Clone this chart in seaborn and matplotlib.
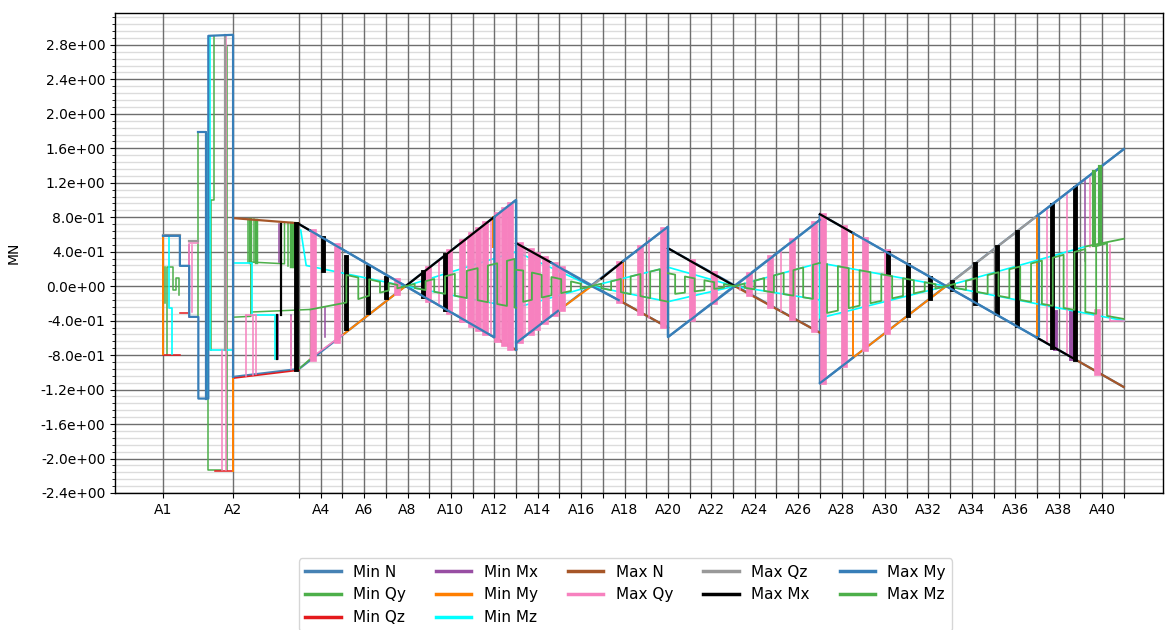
import numpy as np
import pandas as pd
import matplotlib
matplotlib.use("Agg")
import matplotlib.pyplot as plt
import seaborn as sns
from matplotlib.ticker import MultipleLocator, FormatStrFormatter, FixedLocator
from matplotlib.lines import Line2D

nan = np.nan

# ---- stations (x axis) ----
station_x = [0.0, 3.23, 6.27, 7.27, 8.27, 9.27, 10.27, 11.27, 12.27, 13.27, 14.27, 15.27,
             16.27, 17.27, 18.27, 19.27, 20.27, 21.27, 22.27, 23.27, 24.27, 25.27, 26.27,
             27.27, 28.27, 29.27, 30.27, 31.27, 32.27, 33.27, 34.27, 35.27, 36.27, 37.27,
             38.27, 39.27, 40.27, 41.27, 42.27, 43.27, 44.27]
station_labels = ["A1", "A2", "", "A4", "", "A6", "", "A8", "", "A10", "", "A12", "", "A14", "",
                  "A16", "", "A18", "", "A20", "", "A22", "", "A24", "", "A26", "", "A28", "",
                  "A30", "", "A32", "", "A34", "", "A36", "", "A38", "", "A40", ""]

series_names = ["Min N", "Min Qy", "Min Qz", "Min Mx", "Min My", "Min Mz",
                "Max N", "Max Qy", "Max Qz", "Max Mx", "Max My", "Max Mz"]
series_colors = ["#4682b4", "#4daf4a", "#e41a1c", "#984ea3", "#ff7f00", "#00ffff",
                 "#a65628", "#f781bf", "#999999", "#000000", "#377eb8", "#4daf4a"]

# ---- Min N ----
min_n_x = [3.23, 6.27, 16.27, 16.27, 16.27, 23.27, 23.27, 23.27, 30.27, 30.27, 30.27, 44.27, nan,
           6.27, 16.27, nan, 16.27, 23.27, nan, 23.27, 30.27, nan, 30.27, 44.27]
min_n_y = [-1.053, -0.96, 1.0, -0.74, -0.66, 0.69, -0.59, -0.59, 0.77, 0.835, -1.126, 1.59, nan,
           0.72, -0.74, nan, 0.5, -0.48, nan, 0.44, -0.54, nan, 0.835, -1.17]

# ---- Min Qy ----
min_qy_x = [0.1, 0.1, nan, 0.2, 0.2, 0.45, 0.45, 0.6, 0.6, 0.75, 0.75, nan, 1.63, 1.63, 2.0, nan,
            2.09, 2.09, 2.7, nan, 2.37, 2.37, 2.2, 2.2, nan, 2.93, 2.93, nan,
            3.23, 4.05, 4.05, 5.6, 5.6, nan, 4.05, 6.8, 6.8, 6.27, nan,
            3.92, 3.92, nan, 4.2, 4.2, nan, 5.75, 5.75]
min_qy_y = [0.22, -0.2, nan, -0.79, 0.22, 0.22, -0.05, -0.05, 0.1, 0.1, -0.1, nan, -0.356, 1.79, 1.79, nan,
            -0.74, -2.13, -2.13, nan, 2.9, 1.0, 1.0, -0.74, nan, 2.78, -2.13, nan,
            -0.36, -0.35, 0.28, 0.26, 0.73, nan, -0.30, -0.27, -0.84, -0.96, nan,
            0.78, 0.28, nan, 0.78, 0.28, nan, 0.73, 0.23]
min_qy_bar_x = [4.0, 4.3, 5.9, 6.05]
min_qy_bar_lo = [0.28, 0.28, 0.23, 0.23]
min_qy_bar_hi = [0.78, 0.77, 0.73, 0.72]

# ---- Min Qz ----
min_qz_x = [0.0, 0.78, nan, 0.78, 1.21, nan, 2.4, 3.23, nan, 3.23, 6.27]
min_qz_y = [-0.795, -0.795, nan, -0.31, -0.31, nan, -2.14, -2.14, nan, -1.068, -0.975]

# ---- Min Mx ----
min_mx_x = [5.3, 5.3, nan, 5.9, 5.9, nan, 5.35, 5.35, nan, 7.45, 7.45, nan, 1.2, 1.2, nan, 42.5, 42.5]
min_mx_y = [-0.34, -0.85, nan, -0.34, -0.92, nan, 0.72, 0.28, nan, -0.24, -0.59, nan, 0.48, -0.36, nan, 0.29, 1.24]
min_mx_bar_x = [41.1, 41.85]
min_mx_bar_lo = [-0.72, -0.83]
min_mx_bar_hi = [-0.30, -0.30]

# ---- Min My ----
min_my_x = [0.0, 0.0, nan, 3.23, 3.23, nan, 8.29, 11.18, nan, 15.2, 15.2, nan, 18.2, 19.75, nan,
            21.2, 21.2, nan, 31.8, 36.09, nan, 31.8, 31.8, nan, 40.27, 40.27]
min_my_y = [0.584, -0.79, nan, -2.14, -1.06, nan, -0.564, 0.0, nan, 0.80, 0.45, nan, -0.287, 0.0, nan,
            0.29, -0.19, nan, -0.829, 0.0, nan, 0.616, -0.829, nan, 0.814, -0.57]

# ---- Min Mz ----
min_mz_x = [0.3, 0.3, 0.4, 0.4, nan, 2.05, 2.05, nan, 2.17, 2.17, 3.23, nan,
            3.23, 4.1, 4.1, 5.15, 5.15, nan,
            6.35, 6.6, 11.18, 16.27, 19.75, 23.27, 26.35, 30.27, 36.09, 42.5, nan,
            11.18, 16.27, 19.75, 23.27, 26.35, 30.27, 30.27, 36.09, 44.27, nan,
            16.27, 16.27, nan, 23.27, 23.27, nan, 30.27, 30.27]
min_mz_y = [0.584, -0.25, -0.25, -0.79, nan, 1.77, -1.28, nan, 2.9, -0.74, -0.74, nan,
            0.27, 0.27, -0.34, -0.34, -0.85, nan,
            0.65, 0.24, 0.0, 0.4, 0.0, 0.22, 0.0, 0.27, 0.0, 0.46, nan,
            0.0, -0.25, 0.0, -0.18, 0.0, -0.16, -0.37, 0.0, -0.40, nan,
            0.4, -0.25, nan, 0.22, -0.18, nan, 0.27, -0.16]

# ---- Max N ----
max_n_x = [3.23, 6.27, nan, 15.27, 16.27, nan, 21.0, 23.27, nan, 26.35, 30.27, nan, 42.0, 44.27]
max_n_y = [0.79, 0.73, nan, -0.594, -0.74, nan, -0.162, -0.48, nan, 0.0, -0.54, nan, -0.845, -1.17]

# ---- Max Qy ----
max_qy_x = [1.2, 1.2, nan, 1.35, 1.35, nan, 1.21, 1.63, nan, 2.9, 2.9, nan, 2.72, 2.72, nan,
            3.82, 3.82, nan, 3.82, 4.29, nan, 4.15, 4.15, nan, 4.29, 4.29, nan, 5.9, 5.9, nan,
            6.77, 8.29, nan, 40.74, 40.74, nan, 41.66, 41.66, nan, 42.7, 42.7, nan, 43.64, 43.64, 44.27, nan,
            12.7, 12.7, nan, 14.05, 14.05, nan, 15.1, 15.1, nan, 16.7, 16.7, nan, 17.8, 17.8, nan,
            22.4, 22.4, nan, 26.6, 26.6, nan, 28.5, 28.5]
max_qy_y = [0.48, -0.36, nan, 0.48, -0.3, nan, 0.5, 0.5, nan, 2.91, -2.13, nan, -0.74, -2.13, nan,
            -0.34, -1.04, nan, -0.34, -0.34, nan, -0.34, -1.03, nan, -0.34, -1.02, nan, -0.36, -0.96, nan,
            -0.84, -0.564, nan, -0.664, 0.905, nan, -0.796, 1.084, nan, 0.45, 1.26, nan, 0.48, -0.40, -0.40, nan,
            -0.219, 0.300, nan, -0.416, 0.565, nan, -0.569, 0.770, nan, 0.440, -0.578, nan, 0.286, -0.366, nan,
            -0.370, 0.558, nan, -0.040, 0.050, nan, -0.290, 0.420]
max_qy_bar_x = [6.9, 8.0, 10.8, 12.2, 13.2, 13.8, 14.2, 14.5, 14.85, 15.4, 15.7, 16.0,
                16.45, 16.95, 17.25, 17.6, 18.05, 18.4, 21.0, 21.98, 23.05,
                24.4, 25.4, 27.0, 27.98, 29.0, 30.0, 30.4, 31.4, 32.35, 33.37, 43.05]
max_qy_bar_lo = [-0.837, -0.621, -0.072, -0.146, -0.292, -0.379, -0.438, -0.482, -0.533, -0.613, -0.657, -0.70,
                 -0.625, -0.529, -0.471, -0.403, -0.316, -0.249, -0.162, -0.30, -0.449,
                 -0.371, -0.177, -0.082, -0.219, -0.362, -0.502, -1.10, -0.907, -0.722, -0.525, -0.995]
max_qy_bar_hi = [0.628, 0.467, 0.059, 0.202, 0.398, 0.516, 0.594, 0.653, 0.722, 0.829, 0.888, 0.947,
                 0.475, 0.405, 0.363, 0.314, 0.251, 0.202, 0.253, 0.442, 0.649,
                 0.282, 0.142, 0.134, 0.324, 0.522, 0.716, 0.816, 0.673, 0.537, 0.391, -0.30]

# ---- Max Qz ----
max_qz_x = [0.0, 0.78, nan, 1.21, 1.63, nan, 2.88, 2.88, nan, 36.09, 40.27, nan, 19.75, 20.2]
max_qz_y = [0.595, 0.595, nan, 0.52, 0.52, nan, 2.91, -0.74, nan, 0.0, 0.814, nan, 0.0, 0.087]

# ---- Max Mx ----
max_mx_x = [6.27, 6.77, nan, 11.18, 15.27, nan, 16.27, 17.9, nan, 20.2, 21.2, nan, 23.27, 26.35, nan,
            30.27, 31.8, nan, 40.27, 42.0, nan, 5.44, 5.44, nan, 5.25, 5.25]
max_mx_y = [0.72, 0.647, nan, 0.0, 0.804, nan, 0.5, 0.272, nan, 0.087, 0.29, nan, 0.44, 0.0, nan,
            0.835, 0.616, nan, -0.597, -0.845, nan, 0.72, -0.34, nan, -0.34, -0.85]
max_mx_bar_x = [6.15, 7.37, 8.43, 9.45, 10.3, 11.98, 13.0, 33.4, 34.33, 35.35, 36.36, 37.42, 38.43, 39.35, 40.97, 42.03]
max_mx_bar_lo = [-0.96, 0.19, -0.49, -0.30, -0.13, -0.11, -0.26, 0.15, -0.34, -0.14, -0.03, -0.19, -0.31, -0.45, -0.70, -0.85]
max_mx_bar_hi = [0.72, 0.56, 0.34, 0.22, 0.09, 0.16, 0.36, 0.39, 0.24, 0.09, 0.05, 0.26, 0.45, 0.63, 0.94, 1.14]

# ---- Max My ----
max_my_x = [0.0, 0.78, 0.78, 1.21, 1.21, 1.63, 1.63, 2.09, 2.09, 3.23, 3.23, nan, 2.0, 2.0, 1.63, nan,
            6.77, 11.18, 15.27, 15.27, 16.27, 16.27, nan, 16.27, 18.2, nan, 17.9, 19.75, 21.0, nan,
            21.2, 23.27, 23.27, 26.35, 30.27, nan, 30.27, 31.8, nan, 31.8, 36.09, 40.27, nan,
            40.27, 44.27, nan, 40.35, 40.35]
max_my_y = [0.584, 0.584, 0.236, 0.236, -0.356, -0.356, -1.304, -1.304, 2.905, 2.917, -1.053, nan, -1.304, 1.79, 1.79, nan,
            0.647, 0.0, -0.594, 0.804, 1.0, -0.74, nan, -0.66, -0.287, nan, 0.272, 0.0, -0.162, nan,
            0.29, 0.69, -0.59, 0.0, 0.77, nan, -1.126, -0.829, nan, 0.616, 0.0, -0.597, nan,
            0.814, 1.59, nan, 0.80, -0.58]

# ---- Max Mz (square wave between the small envelopes) ----
wave_c_x = [6.8, 8.45, 8.45, 9.0, 9.0, 9.5, 9.5, 10.0, 10.0, 10.4, 10.4, 10.8, 10.8, 11.18,
            11.6, 11.6, 12.1, 12.1, 12.5, 12.5, 13.0, 13.0, 13.45, 13.45, 14.0, 14.0, 14.5, 14.5,
            14.97, 14.97, 15.4, 15.4, 15.85, 15.85, 16.2, 16.2, 16.27]
wave_c_y = [-0.27, -0.19, 0.13, 0.10, -0.15, -0.11, 0.08, 0.05, -0.075, -0.05, 0.035, 0.015, -0.025, 0.0,
            0.026, -0.021, -0.045, 0.058, 0.083, -0.065, -0.089, 0.115, 0.143, -0.111, -0.138, 0.178, 0.209, -0.163,
            -0.186, 0.239, 0.266, -0.207, -0.229, 0.294, 0.316, -0.246, -0.25]
wave_d_x = [16.27, 16.6, 16.6, 17.0, 17.0, 17.45, 17.45, 17.9, 17.9, 18.35, 18.35, 18.8, 18.8, 19.25, 19.25, 19.75,
            20.2, 20.2, 20.65, 20.65, 21.1, 21.1, 21.55, 21.55, 22.0, 22.0, 22.45, 22.45, 22.9, 22.9, 23.27]
wave_d_y = [0.19, 0.181, -0.181, -0.158, 0.158, 0.132, -0.132, -0.106, 0.106, 0.081, -0.081, -0.055, 0.055, 0.029, -0.029, 0.0,
            0.028, -0.023, -0.046, 0.056, 0.084, -0.069, -0.092, 0.113, 0.141, -0.115, -0.138, 0.169, 0.197, -0.161, -0.18]
wave_e_x = [23.27, 23.6, 23.6, 24.05, 24.05, 24.5, 24.5, 24.95, 24.95, 25.4, 25.4, 25.85, 25.85, 26.35,
            26.8, 26.8, 27.25, 27.25, 27.7, 27.7, 28.15, 28.15, 28.6, 28.6, 29.05, 29.05, 29.5, 29.5, 29.95, 29.95, 30.27]
wave_e_y = [0.15, 0.134, -0.089, -0.075, 0.112, 0.090, -0.060, -0.046, 0.068, 0.046, -0.031, -0.016, 0.024, 0.0,
            0.031, -0.018, -0.037, 0.062, 0.093, -0.055, -0.073, 0.124, 0.155, -0.092, -0.110, 0.186, 0.217, -0.129, -0.147, 0.248, 0.27]
wave_f_x = [30.6, 30.6, 31.1, 31.1, 31.6, 31.6, 32.1, 32.1, 32.6, 32.6, 33.1, 33.1, 33.6, 33.6, 34.1, 34.1,
            34.6, 34.6, 35.1, 35.1, 35.6, 35.6, 36.09,
            36.5, 36.5, 37.0, 37.0, 37.5, 37.5, 38.0, 38.0, 38.5, 38.5, 39.0, 39.0, 39.5, 39.5, 40.0, 40.0,
            40.5, 40.5, 41.0, 41.0, 41.5, 41.5, 42.0, 42.0, 42.5, 42.5, 43.0, 43.0, 43.5, 43.5, 44.27,
            nan, 42.5, 44.27]
wave_f_y = [0.255, -0.311, -0.283, 0.232, 0.208, -0.255, -0.226, 0.185, 0.162, -0.198, -0.170, 0.139, 0.116, -0.141, -0.113, 0.092,
            0.069, -0.084, -0.056, 0.046, 0.023, -0.028, 0.0,
            0.028, -0.019, -0.042, 0.061, 0.095, -0.066, -0.089, 0.128, 0.162, -0.112, -0.135, 0.196, 0.229, -0.159, -0.182, 0.263,
            0.296, -0.205, -0.228, 0.330, 0.364, -0.252, -0.275, 0.397, 0.431, -0.298, -0.321, 0.464, 0.498, -0.345, -0.38,
            nan, 0.46, 0.55]
max_mz_bar_x = [42.9, 43.2]
max_mz_bar_lo = [0.48, 0.50]
max_mz_bar_hi = [1.33, 1.38]

# ---------------------------------------------------------------
fig = plt.figure(figsize=(11.65, 6.3), dpi=100)
ax = fig.add_axes([115 / 1165, 137 / 630, 1048 / 1165, 480 / 630])


def draw_path(xs, ys, color, lw):
    assert len(xs) == len(ys), (len(xs), len(ys))
    df = pd.DataFrame({"x": xs, "y": ys})
    df["unit"] = df["x"].isna().cumsum()
    df = df.dropna()
    sns.lineplot(data=df, x="x", y="y", units="unit", estimator=None, sort=False,
                 color=color, linewidth=lw, ax=ax, legend=False)


def draw_bars(bx, lo, hi, color, lw):
    assert len(bx) == len(lo) == len(hi)
    xs, ys = [], []
    for x, a, b in zip(bx, lo, hi):
        xs += [x, x, nan]
        ys += [a, b, nan]
    draw_path(xs, ys, color, lw)


c = dict(zip(series_names, series_colors))
draw_path(min_n_x, min_n_y, c["Min N"], 1.6)
draw_path(min_qy_x, min_qy_y, c["Min Qy"], 1.1)
draw_bars(min_qy_bar_x, min_qy_bar_lo, min_qy_bar_hi, c["Min Qy"], 2.5)
draw_path(min_qz_x, min_qz_y, c["Min Qz"], 1.1)
draw_path(min_mx_x, min_mx_y, c["Min Mx"], 1.1)
draw_bars(min_mx_bar_x, min_mx_bar_lo, min_mx_bar_hi, c["Min Mx"], 3.5)
draw_path(min_my_x, min_my_y, c["Min My"], 1.4)
draw_path(min_mz_x, min_mz_y, c["Min Mz"], 1.2)
draw_path(max_n_x, max_n_y, c["Max N"], 1.6)
draw_path(max_qy_x, max_qy_y, c["Max Qy"], 1.1)
draw_bars(max_qy_bar_x, max_qy_bar_lo, max_qy_bar_hi, c["Max Qy"], 4.8)
draw_path(max_qz_x, max_qz_y, c["Max Qz"], 1.6)
draw_path(max_mx_x, max_mx_y, c["Max Mx"], 1.6)
draw_bars(max_mx_bar_x, max_mx_bar_lo, max_mx_bar_hi, c["Max Mx"], 3.5)
draw_path(max_my_x, max_my_y, c["Max My"], 1.6)
draw_path(wave_c_x + [nan] + wave_d_x + [nan] + wave_e_x + [nan] + wave_f_x,
          wave_c_y + [nan] + wave_d_y + [nan] + wave_e_y + [nan] + wave_f_y, c["Max Mz"], 1.3)
draw_bars(max_mz_bar_x, max_mz_bar_lo, max_mz_bar_hi, c["Max Mz"], 3.0)

# axes styling
ax.set_xlim(-2.21, 46.08)
ax.set_ylim(-2.4, 3.17)
ax.xaxis.set_major_locator(FixedLocator(station_x))
ax.set_xticklabels(station_labels, fontsize=10)
ax.yaxis.set_major_locator(MultipleLocator(0.4))
ax.yaxis.set_minor_locator(MultipleLocator(0.08))
ax.yaxis.set_major_formatter(FormatStrFormatter("%.1e"))
ax.tick_params(axis="y", labelsize=10)
ax.set_axisbelow(True)
ax.grid(which="minor", axis="y", color="#dcdcdc", linewidth=1.0)
ax.grid(which="major", axis="y", color="#6e6e6e", linewidth=1.0)
ax.grid(False, axis="x")
for sx in station_x:
    ax.axvline(sx, color="#6e6e6e", linewidth=1.0, zorder=0.9)
ax.set_xlabel("")
ax.set_ylabel("MN", fontsize=10)
ax.yaxis.set_label_coords(-0.09, 0.5)
for sp in ax.spines.values():
    sp.set_color("black")
    sp.set_linewidth(1.0)

handles = [Line2D([0], [0], color=col, lw=2.5) for col in series_colors]
fig.legend(handles, series_names, loc="upper center", bbox_to_anchor=(0.537, 0.1135),
           ncol=5, fontsize=11, handlelength=2.3, columnspacing=2.0, handletextpad=0.8,
           borderaxespad=0.0, frameon=True)

fig.savefig("out.png", dpi=100)
